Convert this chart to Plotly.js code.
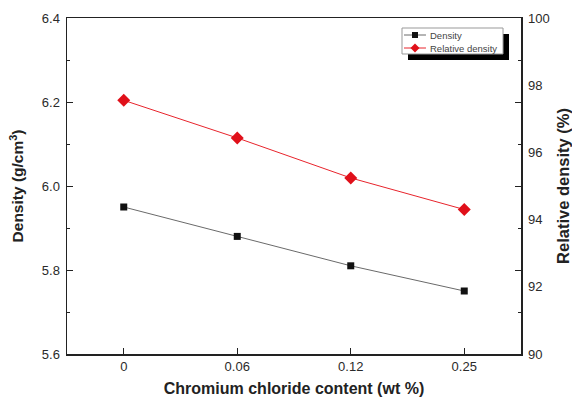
<!DOCTYPE html>
<html>
<head>
<meta charset="utf-8">
<script src="https://cdn.plot.ly/plotly-3.0.1.min.js"></script>
<style>html,body{margin:0;padding:0;background:#fff;}#chart{width:572px;height:403px;}</style>
</head>
<body>
<div id="chart"></div>
<script>
var categories = ['0', '0.06', '0.12', '0.25'];
var density = [5.95, 5.88, 5.81, 5.75];
var relativeDensity = [97.55, 96.43, 95.24, 94.3];
var leftTicks = [5.6, 5.8, 6.0, 6.2, 6.4];
var leftTickLabels = ['5.6', '5.8', '6.0', '6.2', '6.4'];
var rightTicks = [90, 92, 94, 96, 98, 100];
var seriesNames = ['Density', 'Relative density'];

var font = 'Liberation Sans, Arial, sans-serif';
var densityLine = '#6a6a6a', densityMarker = '#111111';
var relLine = '#e8242c', relMarker = '#e0101a';

var traces = [
  {
    x: categories, y: density, name: seriesNames[0], type: 'scatter', mode: 'lines+markers',
    line: {color: densityLine, width: 1},
    marker: {symbol: 'square', size: 7, color: densityMarker},
    xaxis: 'x', yaxis: 'y', showlegend: false
  },
  {
    x: categories, y: relativeDensity, name: seriesNames[1], type: 'scatter', mode: 'lines+markers',
    line: {color: relLine, width: 1},
    marker: {symbol: 'diamond', size: 10, color: relMarker},
    xaxis: 'x', yaxis: 'y2', showlegend: false
  }
];

// legend box (drawn as decoration, in plot-area fractions)
var lg = {x0: 0.7379, x1: 0.9604, y0: 0.8929, y1: 0.9702, dx: 0.0132, dy: 0.018,
          row1: 0.9494, row2: 0.9107, lx0: 0.7423, lx1: 0.7907, mx: 0.7665, tx: 0.7975};

var shapes = [
  {type: 'rect', xref: 'paper', yref: 'paper', x0: lg.x0 + lg.dx, x1: lg.x1 + lg.dx, y0: lg.y0 - lg.dy, y1: lg.y1 - lg.dy,
   fillcolor: '#000000', line: {width: 0}, layer: 'above'},
  {type: 'rect', xref: 'paper', yref: 'paper', x0: lg.x0, x1: lg.x1, y0: lg.y0, y1: lg.y1,
   fillcolor: '#ffffff', line: {color: '#999999', width: 1}, layer: 'above'},
  {type: 'line', xref: 'paper', yref: 'paper', x0: lg.lx0, x1: lg.lx1, y0: lg.row1, y1: lg.row1,
   line: {color: densityLine, width: 1}, layer: 'above'},
  {type: 'rect', xref: 'paper', yref: 'paper', x0: lg.mx - 0.0066, x1: lg.mx + 0.0066, y0: lg.row1 - 0.0089, y1: lg.row1 + 0.0089,
   fillcolor: densityMarker, line: {width: 0}, layer: 'above'},
  {type: 'line', xref: 'paper', yref: 'paper', x0: lg.lx0, x1: lg.lx1, y0: lg.row2, y1: lg.row2,
   line: {color: relLine, width: 1}, layer: 'above'},
  {type: 'path', xref: 'paper', yref: 'paper',
   path: 'M ' + (lg.mx - 0.0099) + ' ' + lg.row2 + ' L ' + lg.mx + ' ' + (lg.row2 + 0.0134) + ' L ' + (lg.mx + 0.0099) + ' ' + lg.row2 + ' L ' + lg.mx + ' ' + (lg.row2 - 0.0134) + ' Z',
   fillcolor: relMarker, line: {width: 0}, layer: 'above'}
];

var annotations = [
  {xref: 'paper', yref: 'paper', x: lg.tx, y: lg.row1, xanchor: 'left', yanchor: 'middle', showarrow: false,
   text: seriesNames[0], font: {family: font, size: 9.5, color: '#444444'}, borderpad: 0},
  {xref: 'paper', yref: 'paper', x: lg.tx, y: lg.row2, xanchor: 'left', yanchor: 'middle', showarrow: false,
   text: seriesNames[1], font: {family: font, size: 9.5, color: '#444444'}, borderpad: 0}
];

var layout = {
  width: 572, height: 403,
  margin: {l: 67, r: 51, t: 18, b: 49},
  paper_bgcolor: '#ffffff', plot_bgcolor: '#ffffff',
  font: {family: font, color: '#333333', size: 13},
  showlegend: false,
  xaxis: {
    type: 'category', range: [-0.5, 3.5],
    showline: true, linecolor: '#222222', linewidth: 1.5, mirror: true,
    ticks: 'inside', ticklen: 6, tickcolor: '#222222',
    showgrid: false, zeroline: false,
    tickfont: {family: font, size: 13, color: '#2a2a2a'},
    title: {text: '<b>Chromium chloride content (wt %)</b>', font: {family: font, size: 16, color: '#222222'}, standoff: 9}
  },
  yaxis: {
    range: [5.6, 6.4], tickvals: leftTicks, ticktext: leftTickLabels,
    showline: true, linecolor: '#222222', linewidth: 1.5, mirror: 'ticks',
    ticks: 'inside', ticklen: 6, tickcolor: '#222222',
    minor: {dtick: 0.1, ticks: 'inside', ticklen: 3, tickcolor: '#222222'},
    showgrid: false, zeroline: false, ticklabelstandoff: 3,
    tickfont: {family: font, size: 13, color: '#2a2a2a'},
    title: {text: '<b>Density (g/cm<sup>3</sup>)</b>', font: {family: font, size: 15.5, color: '#222222'}, standoff: 14}
  },
  yaxis2: {
    overlaying: 'y', side: 'right', range: [90, 100], tickvals: rightTicks,
    showline: false, ticks: '', showgrid: false, zeroline: false, ticklabelstandoff: 6,
    tickfont: {family: font, size: 13, color: '#2a2a2a'},
    title: {text: '<b>Relative density (%)</b>', font: {family: font, size: 16.5, color: '#222222'}, standoff: 10}
  },
  shapes: shapes,
  annotations: annotations
};

Plotly.newPlot('chart', traces, layout, {displayModeBar: false, staticPlot: true});
</script>
</body>
</html>
